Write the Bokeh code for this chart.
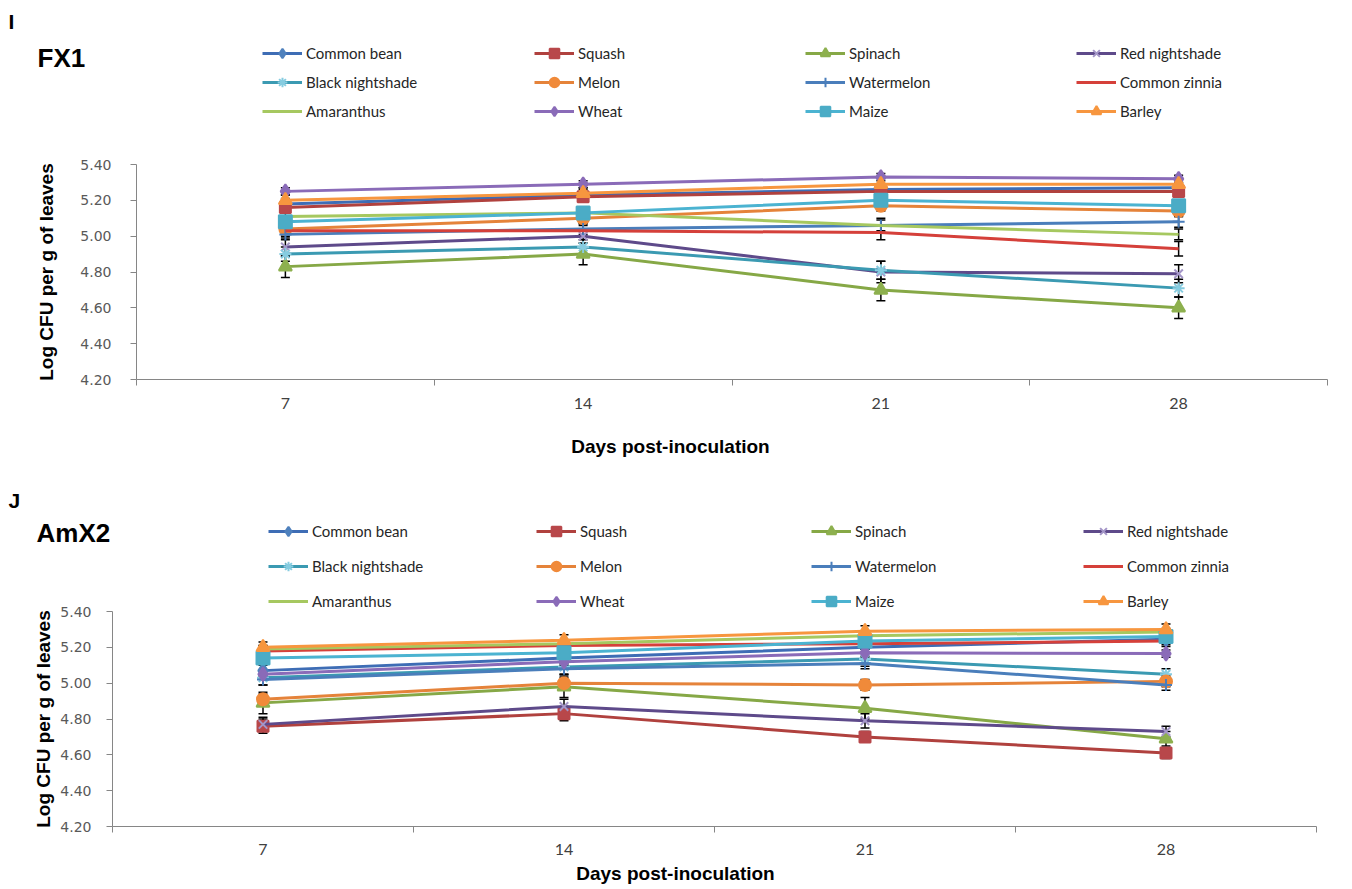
import numpy as np
from bokeh.plotting import figure
from bokeh.models import (Range1d, FixedTicker, PrintfTickFormatter, ColumnDataSource,
                          Whisker, TeeHead, Legend, LegendItem, Label)
from bokeh.layouts import column
from bokeh.embed import file_html
from bokeh.resources import INLINE

# ---------------- data ----------------
days = [7, 14, 21, 28]
day_labels = ["7", "14", "21", "28"]
day_bounds = [3.5, 10.5, 17.5, 24.5, 31.5]
y_ticks = [4.20, 4.40, 4.60, 4.80, 5.00, 5.20, 5.40]

species = ["Common bean", "Squash", "Spinach", "Red nightshade",
           "Black nightshade", "Melon", "Watermelon", "Common zinnia",
           "Amaranthus", "Wheat", "Maize", "Barley"]

# FX1 (panel I)
fx1_common_bean      = [5.18, 5.23, 5.26, 5.27]
fx1_squash           = [5.16, 5.22, 5.25, 5.25]
fx1_spinach          = [4.83, 4.90, 4.70, 4.60]
fx1_red_nightshade   = [4.94, 5.00, 4.80, 4.79]
fx1_black_nightshade = [4.90, 4.94, 4.81, 4.71]
fx1_melon            = [5.04, 5.10, 5.17, 5.14]
fx1_watermelon       = [5.01, 5.04, 5.06, 5.08]
fx1_common_zinnia    = [5.03, 5.03, 5.02, 4.93]
fx1_amaranthus       = [5.11, 5.13, 5.06, 5.01]
fx1_wheat            = [5.25, 5.29, 5.33, 5.32]
fx1_maize            = [5.08, 5.13, 5.20, 5.17]
fx1_barley           = [5.20, 5.24, 5.29, 5.29]

fx1_err_common_bean      = [0.03, 0.03, 0.03, 0.03]
fx1_err_squash           = [0.03, 0.03, 0.03, 0.03]
fx1_err_spinach          = [0.06, 0.06, 0.06, 0.06]
fx1_err_red_nightshade   = [0.05, 0.04, 0.06, 0.05]
fx1_err_black_nightshade = [0.04, 0.04, 0.05, 0.05]
fx1_err_melon            = [0.03, 0.03, 0.03, 0.03]
fx1_err_watermelon       = [0.03, 0.03, 0.04, 0.03]
fx1_err_common_zinnia    = [0.03, 0.03, 0.04, 0.04]
fx1_err_amaranthus       = [0.03, 0.03, 0.03, 0.03]
fx1_err_wheat            = [0.02, 0.02, 0.02, 0.02]
fx1_err_maize            = [0.03, 0.03, 0.03, 0.03]
fx1_err_barley           = [0.03, 0.03, 0.03, 0.03]

# AmX2 (panel J)
amx2_common_bean      = [5.07, 5.14, 5.20, 5.245]
amx2_squash           = [4.76, 4.83, 4.70, 4.61]
amx2_spinach          = [4.89, 4.98, 4.86, 4.69]
amx2_red_nightshade   = [4.77, 4.87, 4.79, 4.73]
amx2_black_nightshade = [5.03, 5.09, 5.135, 5.05]
amx2_melon            = [4.91, 5.00, 4.99, 5.01]
amx2_watermelon       = [5.02, 5.08, 5.11, 4.99]
amx2_common_zinnia    = [5.18, 5.21, 5.22, 5.235]
amx2_amaranthus       = [5.19, 5.22, 5.265, 5.285]
amx2_wheat            = [5.05, 5.12, 5.17, 5.165]
amx2_maize            = [5.14, 5.17, 5.235, 5.26]
amx2_barley           = [5.20, 5.24, 5.29, 5.30]

amx2_err_common_bean      = [0.03, 0.03, 0.03, 0.03]
amx2_err_squash           = [0.04, 0.04, 0.03, 0.03]
amx2_err_spinach          = [0.06, 0.06, 0.06, 0.04]
amx2_err_red_nightshade   = [0.04, 0.04, 0.04, 0.03]
amx2_err_black_nightshade = [0.04, 0.04, 0.04, 0.03]
amx2_err_melon            = [0.03, 0.03, 0.03, 0.03]
amx2_err_watermelon       = [0.03, 0.03, 0.03, 0.03]
amx2_err_common_zinnia    = [0.03, 0.03, 0.03, 0.03]
amx2_err_amaranthus       = [0.02, 0.02, 0.02, 0.02]
amx2_err_wheat            = [0.02, 0.02, 0.02, 0.02]
amx2_err_maize            = [0.03, 0.03, 0.03, 0.03]
amx2_err_barley           = [0.03, 0.03, 0.03, 0.03]

fx1_series = [fx1_common_bean, fx1_squash, fx1_spinach, fx1_red_nightshade,
              fx1_black_nightshade, fx1_melon, fx1_watermelon, fx1_common_zinnia,
              fx1_amaranthus, fx1_wheat, fx1_maize, fx1_barley]
fx1_errors = [fx1_err_common_bean, fx1_err_squash, fx1_err_spinach, fx1_err_red_nightshade,
              fx1_err_black_nightshade, fx1_err_melon, fx1_err_watermelon, fx1_err_common_zinnia,
              fx1_err_amaranthus, fx1_err_wheat, fx1_err_maize, fx1_err_barley]
amx2_series = [amx2_common_bean, amx2_squash, amx2_spinach, amx2_red_nightshade,
               amx2_black_nightshade, amx2_melon, amx2_watermelon, amx2_common_zinnia,
               amx2_amaranthus, amx2_wheat, amx2_maize, amx2_barley]
amx2_errors = [amx2_err_common_bean, amx2_err_squash, amx2_err_spinach, amx2_err_red_nightshade,
               amx2_err_black_nightshade, amx2_err_melon, amx2_err_watermelon, amx2_err_common_zinnia,
               amx2_err_amaranthus, amx2_err_wheat, amx2_err_maize, amx2_err_barley]

# ---------------- styles ----------------
line_colors = ["#3E6DB5", "#B0413E", "#86A846", "#5E4A8A", "#3B9AB2", "#E5833A",
               "#4A7EBB", "#D5403A", "#A6C860", "#8A6BB8", "#4BB3D1", "#F7963F"]
markers = ["diamond", "square", "triangle", "x", "asterisk", "circle",
           "cross", None, None, "diamond", "square", "triangle"]
marker_colors = ["#4F81BD", "#B8474A", "#8DB04E", "#A496C8", "#86CCE0", "#F08A3A",
                 "#4A7EBB", None, None, "#8A6BB8", "#4BACC6", "#F7963F"]
marker_sizes = [14, 11, 13, 12, 12, 12, 12, 0, 0, 14, 13, 13]

TEXT_FONT = "Lato"
BOLD_FONT = "Liberation Sans"
W = 1352


def bold_label(p, x, y, text, size, align="left"):
    p.add_layout(Label(x=x, y=y, text=text, text_font=BOLD_FONT, text_font_style="bold",
                       text_font_size=size, text_baseline="middle", text_align=align,
                       text_color="black"))


def make_strip(top, bottom):
    """A figure whose data coordinates equal page pixels (y downwards)."""
    p = figure(frame_width=W, frame_height=bottom - top,
               x_range=Range1d(0, W), y_range=Range1d(bottom, top),
               x_axis_location=None, y_axis_location=None,
               min_border=0, output_backend="svg", toolbar_location=None)
    p.frame_align = False
    p.outline_line_color = None
    p.xgrid.visible = False
    p.ygrid.visible = False
    p.background_fill_color = None
    p.border_fill_color = None
    return p


def add_legends(p, strip_bottom, xs, rows_bottom, spacing):
    items = []
    for i, name in enumerate(species):
        # one hidden (NaN) point: the renderer only supplies the legend glyph
        hidden = ColumnDataSource(dict(x=np.array([np.nan]), y=np.array([np.nan])))
        rends = [p.line("x", "y", source=hidden, line_color=line_colors[i], line_width=3)]
        if markers[i] is not None:
            mc = marker_colors[i]
            rends.append(p.scatter("x", "y", source=hidden, marker=markers[i],
                                   size=marker_sizes[i], fill_color=mc, line_color=mc,
                                   line_width=2))
        items.append(LegendItem(label=name, renderers=rends))
    for c in range(4):
        leg = Legend(items=[items[c], items[c + 4], items[c + 8]],
                     location=(xs[c], strip_bottom - rows_bottom),
                     orientation="vertical", glyph_width=40, glyph_height=24,
                     label_height=24, label_standoff=4, spacing=spacing,
                     padding=0, margin=0, border_line_color=None,
                     background_fill_alpha=0,
                     label_text_font=TEXT_FONT, label_text_font_size="15px",
                     label_text_color="#262626")
        p.add_layout(leg)


def make_panel(series, errors, cfg):
    p = figure(frame_width=cfg["fw"], frame_height=215,
               min_border_left=cfg["bl"], min_border_right=cfg["br"],
               min_border_top=cfg["bt"], min_border_bottom=cfg["bb"],
               x_range=Range1d(3.5, 31.5), y_range=Range1d(4.2, 5.4),
               output_backend="svg", toolbar_location=None)
    p.frame_align = False
    p.outline_line_color = None
    p.xgrid.visible = False
    p.ygrid.visible = False
    p.background_fill_color = None
    p.border_fill_color = None

    xa = p.xaxis[0]
    xa.ticker = FixedTicker(ticks=days, minor_ticks=day_bounds)
    xa.major_label_overrides = {d: l for d, l in zip(days, day_labels)}
    xa.major_tick_out = 0
    xa.major_tick_in = 0
    xa.minor_tick_out = 6
    xa.minor_tick_in = 0
    xa.minor_tick_line_color = "#868686"
    xa.axis_line_color = "#868686"
    xa.major_label_standoff = cfg["xstand"]
    xa.major_label_text_font = TEXT_FONT
    xa.major_label_text_font_size = "16px"
    xa.major_label_text_color = "#404040"

    ya = p.yaxis[0]
    ya.ticker = FixedTicker(ticks=y_ticks, minor_ticks=[])
    ya.formatter = PrintfTickFormatter(format="%.2f")
    ya.major_tick_out = 6
    ya.major_tick_in = 0
    ya.major_tick_line_color = "#868686"
    ya.axis_line_color = "#868686"
    ya.major_label_standoff = cfg["ystand"]
    ya.major_label_text_font = "DejaVu Sans"
    ya.major_label_text_font_size = "14px"
    ya.major_label_text_color = "#595959"
    ya.axis_label = "Log CFU per g of leaves"
    ya.axis_label_text_font = BOLD_FONT
    ya.axis_label_text_font_style = "bold"
    ya.axis_label_text_font_size = "19px"
    ya.axis_label_text_color = "black"
    ya.axis_label_standoff = cfg["ylabstand"]

    for i, name in enumerate(species):
        vals = series[i]
        err = errors[i]
        src = ColumnDataSource(dict(
            x=days, y=vals,
            upper=[v + e for v, e in zip(vals, err)],
            lower=[v - e for v, e in zip(vals, err)]))
        p.add_layout(Whisker(source=src, base="x", upper="upper", lower="lower",
                             line_color="black", line_width=1.5,
                             upper_head=TeeHead(size=9, line_color="black", line_width=1.5),
                             lower_head=TeeHead(size=9, line_color="black", line_width=1.5)))
        p.line("x", "y", source=src, line_color=line_colors[i], line_width=3)
        if markers[i] is not None:
            mc = marker_colors[i]
            p.scatter("x", "y", source=src, marker=markers[i], size=marker_sizes[i],
                      fill_color=mc, line_color=mc, line_width=2)
    return p


# ---- panel I : header strip (page y 0..140) ----
h1 = make_strip(0, 140)
bold_label(h1, 8, 21, "I", "21px")
bold_label(h1, 37, 57, "FX1", "26px")
add_legends(h1, 140, [262, 534, 805, 1076], 123, 5)

# ---- panel I : plot (page y 140..428) ----
p1 = make_panel(fx1_series, fx1_errors,
                dict(fw=1191, bl=136, br=25, bt=24, bb=49,
                     xstand=12, ystand=19, ylabstand=20))

# ---- strip between panels (page y 428..614) ----
h2 = make_strip(428, 614)
bold_label(h2, 670, 446, "Days post-inoculation", "19px", align="center")
bold_label(h2, 8, 500, "J", "21px")
bold_label(h2, 36, 532, "AmX2", "26px")
add_legends(h2, 614, [268, 536, 811, 1083], 613, 11)

# ---- panel J : plot (page y 600..860, overlapping the strip above by 14px) ----
p2 = make_panel(amx2_series, amx2_errors,
                dict(fw=1204, bl=112, br=36, bt=11, bb=34,
                     xstand=11, ystand=15, ylabstand=3))
p2.margin = (-14, 0, 0, 0)

# ---- footer strip (page y 860..887) ----
f2 = make_strip(860, 887)
bold_label(f2, 675, 873, "Days post-inoculation", "19px", align="center")

layout = column(h1, p1, h2, p2, f2, spacing=0)
open("out.html", "w").write(file_html(layout, INLINE))
